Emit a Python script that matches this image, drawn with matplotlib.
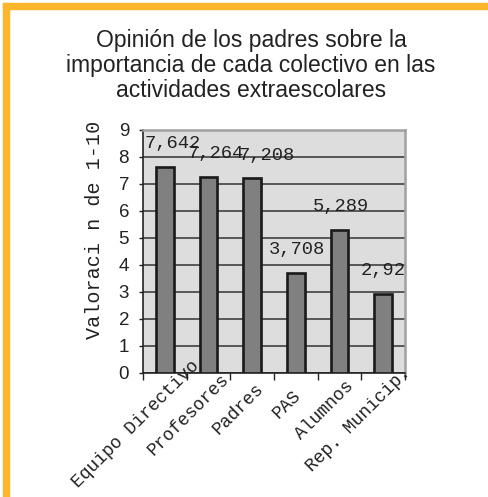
import matplotlib
matplotlib.use("Agg")
import matplotlib.pyplot as plt
import matplotlib.transforms as mtransforms
from matplotlib.patches import Rectangle

categorias = ['Equipo Directivo', 'Profesores', 'Padres', 'PAS', 'Alumnos', 'Rep. Municip.']
valores = [7.642, 7.264, 7.208, 3.708, 5.289, 2.92]
etiquetas = ['7,642', '7,264', '7,208', '3,708', '5,289', '2,92']
titulo = 'Opinión de los padres sobre la\nimportancia de cada colectivo en las\nactividades extraescolares'

# desplazamiento horizontal (px) de cada etiqueta de valor, como en el original
desplaz = [8, 7, 14, 1, 1, 0]

mono = 'Liberation Mono'
sans = 'Liberation Sans'

fig = plt.figure(figsize=(4.88, 4.97), dpi=100)
fig.patch.set_facecolor('white')

# marco naranja (arriba e izquierda)
naranja = '#FBB62B'
fig.patches.append(Rectangle((3/488, 0), 6/488, 1 - 3/497, transform=fig.transFigure,
                             color=naranja, zorder=0))
fig.patches.append(Rectangle((3/488, 1 - 9/497), 1, 6/497, transform=fig.transFigure,
                             color=naranja, zorder=0))

ax = fig.add_axes([143/488, 1 - 372.5/497, 262/488, 242.5/497])
ax.set_facecolor('#DDDDDD')

x = [i + 0.5 for i in range(len(valores))]
ax.bar(x, valores, width=0.4, color='#808080', edgecolor='#1a1a1a', linewidth=1.9, zorder=3)

for xi, v, t, dx in zip(x, valores, etiquetas, desplaz):
    ax.annotate(t, (xi, v), xytext=(dx, 23), textcoords='offset pixels',
                ha='center', va='center', fontsize=13.5, family=mono, color='#222222', zorder=4)

ax.set_xlim(0, 6)
ax.set_ylim(0, 9)
ax.set_yticks(range(10))
ax.set_xticks(range(7))
ax.set_xticklabels([])
ax.yaxis.grid(True, color='#333333', linewidth=1.1, zorder=1)
ax.set_axisbelow(True)

ax.tick_params(axis='y', direction='out', length=3, width=1, labelsize=13.5, pad=7, colors='#222222')
ax.tick_params(axis='x', direction='out', length=5, width=1, colors='#222222')
for lab in ax.get_yticklabels():
    lab.set_family(sans)

for s in ['left', 'bottom']:
    ax.spines[s].set_color('#222222')
    ax.spines[s].set_linewidth(1.2)
for s in ['top', 'right']:
    ax.spines[s].set_color('#A0A0A0')
    ax.spines[s].set_linewidth(1.8)

# etiquetas del eje x giradas; las largas bajan un poco mas hacia la izquierda
trans = mtransforms.blended_transform_factory(ax.transData, ax.transAxes)
for xi, c in zip(x, categorias):
    d = 1.54 * len(c)
    off = mtransforms.offset_copy(trans, fig=fig, x=-4.3 - d, y=-27.3 - d, units='dots')
    ax.text(xi, 0, c, transform=off, rotation=45, rotation_mode='anchor',
            ha='center', va='center', fontsize=13, family=mono, color='#222222')

fig.text(95/488, 1 - 230/497, 'Valoraci n de 1-10', rotation=90, ha='center', va='center',
         fontsize=14.5, family=mono, color='#222222')

fig.text(251/488, 1 - 29.5/497, titulo, ha='center', va='top', fontsize=16.5,
         family=sans, color='#222222', linespacing=1.09)

fig.savefig('out.png', dpi=100)
